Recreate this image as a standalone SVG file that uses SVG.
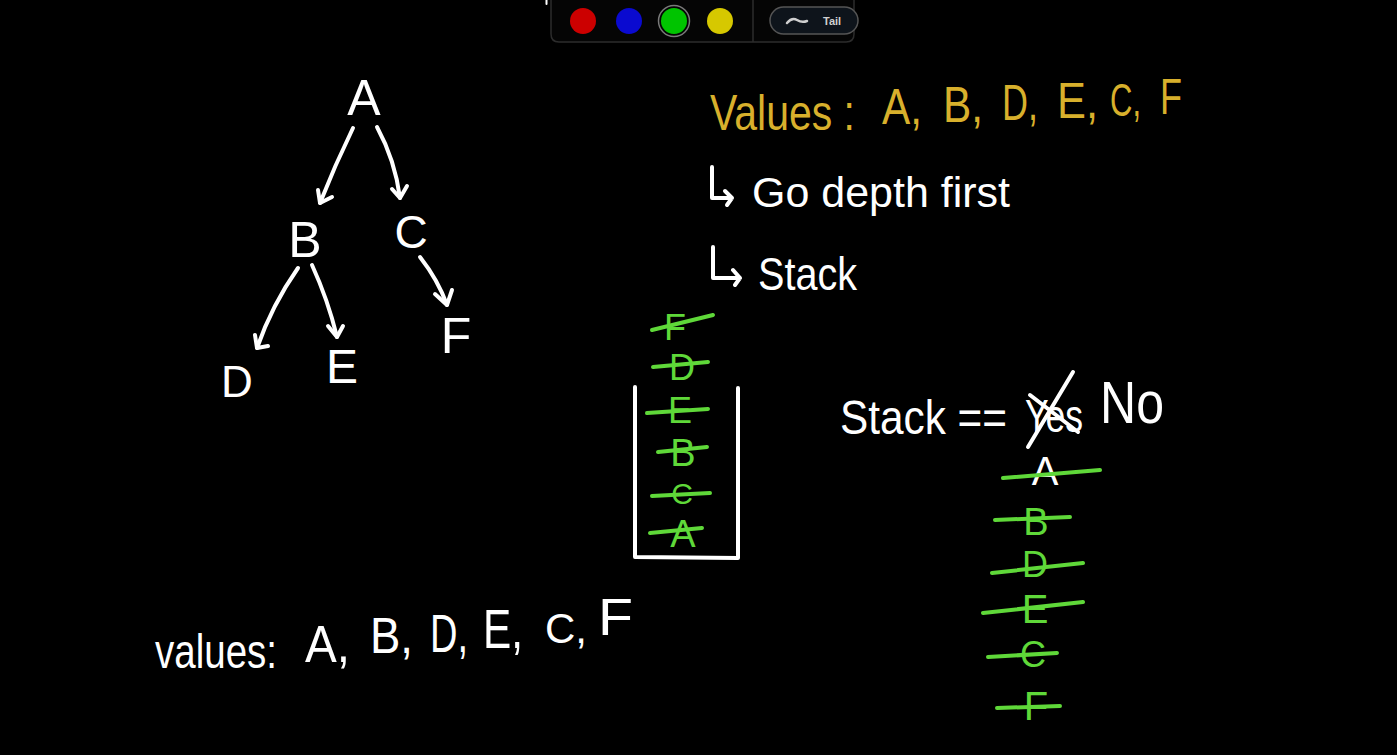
<svg xmlns="http://www.w3.org/2000/svg" width="1397" height="755" viewBox="0 0 1397 755">
<style>
.bg{fill:#000}
.w{fill:#fff;font-family:"Liberation Sans",Arial,sans-serif}
.y{fill:#d8b02c;font-family:"Liberation Sans",Arial,sans-serif}
.g{fill:#5fd839;font-family:"Liberation Sans",Arial,sans-serif}
.mid{text-anchor:middle}
.line{fill:none;stroke:#fff;stroke-width:4;stroke-linecap:round;stroke-linejoin:round}
.strike{fill:none;stroke:#5fd839;stroke-width:4;stroke-linecap:round}
</style>
<rect class="bg" x="0" y="0" width="1397" height="755"/>

<g id="toolbar">
  <path d="M551,-2 L551,34 Q551,42 559,42 L846,42 Q854,42 854,34 L854,-2 Z" fill="#050505" stroke="#2c2c2c" stroke-width="1.5"/>
  <line x1="753" y1="0" x2="753" y2="42" stroke="#2c2c2c" stroke-width="1.5"/>
  <circle cx="583" cy="21" r="13" fill="#cc0000"/>
  <circle cx="629" cy="21" r="13" fill="#0a0ad0"/>
  <circle cx="674" cy="21" r="15.5" fill="none" stroke="#7a7a7a" stroke-width="1.5"/>
  <circle cx="674" cy="21" r="13" fill="#00c400"/>
  <circle cx="720" cy="21" r="13" fill="#d6c800"/>
  <rect x="770" y="7" width="88" height="27" rx="13.5" fill="#0e141b" stroke="#555" stroke-width="1.5"/>
  <path d="M787,23 Q792,17 797,20 Q802,23 807,21" fill="none" stroke="#cfcfcf" stroke-width="2.5" stroke-linecap="round"/>
  <text x="823" y="25" font-family="'Liberation Sans',Arial,sans-serif" font-size="11" font-weight="bold" fill="#d0d0d0">Tail</text>
  <line x1="546.5" y1="0" x2="546.5" y2="4" stroke="#fff" stroke-width="2" stroke-linecap="round"/>
</g>

<g id="node-A"><text class="w mid" x="364" y="115" font-size="50">A</text></g>
<g id="node-B"><text class="w mid" x="305" y="257" font-size="50">B</text></g>
<g id="node-C"><text class="w mid" x="411" y="248" font-size="46">C</text></g>
<g id="node-D"><text class="w mid" x="237" y="397" font-size="44">D</text></g>
<g id="node-E"><text class="w mid" x="342" y="383" font-size="48">E</text></g>
<g id="node-F"><text class="w mid" x="456" y="353" font-size="50">F</text></g>

<g id="connectors">
  <path class="line" d="M353,128 Q335,165 320,203"/>
  <path class="line" d="M318,190 L320,203 L332,197"/>
  <path class="line" d="M377,127 Q395,160 400,198"/>
  <path class="line" d="M392,189 L400,198 L407,186"/>
  <path class="line" d="M298,268 Q272,305 257,348"/>
  <path class="line" d="M255,335 L257,348 L268,346"/>
  <path class="line" d="M312,265 Q328,300 337,337"/>
  <path class="line" d="M328,326 L337,337 L343,326"/>
  <path class="line" d="M420,257 Q438,280 447,305"/>
  <path class="line" d="M435,294 L447,305 L452,290"/>
</g>

<g id="title-values">
  <text class="y" x="710" y="130" font-size="50" textLength="145" lengthAdjust="spacingAndGlyphs">Values :</text>
  <text class="y" x="882" y="124" font-size="50" textLength="40" lengthAdjust="spacingAndGlyphs">A,</text>
  <text class="y" x="943" y="122" font-size="50" textLength="40" lengthAdjust="spacingAndGlyphs">B,</text>
  <text class="y" x="1002" y="120" font-size="50" textLength="36" lengthAdjust="spacingAndGlyphs">D,</text>
  <text class="y" x="1057" y="118" font-size="50" textLength="41" lengthAdjust="spacingAndGlyphs">E,</text>
  <text class="y" x="1110" y="116" font-size="46" textLength="31" lengthAdjust="spacingAndGlyphs">C,</text>
  <text class="y" x="1160" y="114" font-size="50" textLength="22" lengthAdjust="spacingAndGlyphs">F</text>
</g>

<g id="note-depth">
  <path class="line" d="M712,167 L712,198 L732,198 M725,191 L732,198 L727,205"/>
  <text class="w" x="752" y="207" font-size="42" textLength="258" lengthAdjust="spacingAndGlyphs">Go depth first</text>
</g>

<g id="note-stack">
  <path class="line" d="M713,247 L713,278 L740,278 M733,270 L740,278 L735,285"/>
  <text class="w" x="758" y="290" font-size="46" textLength="99" lengthAdjust="spacingAndGlyphs">Stack</text>
</g>

<g id="stack-box">
  <path class="line" d="M635,387 L635,557 L738,558 L738,388" stroke-width="3"/>
  <text class="g mid" x="675" y="340" font-size="36">F</text>
  <line class="strike" x1="652" y1="330" x2="713" y2="315"/>
  <text class="g mid" x="682" y="380" font-size="36">D</text>
  <line class="strike" x1="653" y1="367" x2="708" y2="362"/>
  <text class="g mid" x="680" y="423" font-size="36">E</text>
  <line class="strike" x1="647" y1="413" x2="708" y2="409"/>
  <text class="g mid" x="683" y="466" font-size="38">B</text>
  <line class="strike" x1="658" y1="452" x2="707" y2="447"/>
  <text class="g mid" x="682" y="504" font-size="30">C</text>
  <line class="strike" x1="652" y1="496" x2="710" y2="493"/>
  <text class="g mid" x="683" y="547" font-size="38">A</text>
  <line class="strike" x1="650" y1="533" x2="702" y2="528"/>
</g>

<g id="stack-equals">
  <text class="w" x="840" y="434" font-size="48" textLength="167" lengthAdjust="spacingAndGlyphs">Stack ==</text>
  <text class="w" x="1025" y="432" font-size="46" textLength="58" lengthAdjust="spacingAndGlyphs">Yes</text>
  <path class="line" d="M1073,372 L1028,447 M1030,395 L1078,432"/>
  <text class="w" x="1100" y="423" font-size="60" textLength="64" lengthAdjust="spacingAndGlyphs">No</text>
</g>

<g id="visited-list">
  <text class="w mid" x="1045" y="485" font-size="40">A</text>
  <line class="strike" x1="1003" y1="478" x2="1100" y2="470"/>
  <text class="g mid" x="1036" y="535" font-size="38">B</text>
  <line class="strike" x1="995" y1="520" x2="1070" y2="517"/>
  <text class="g mid" x="1035" y="577" font-size="36">D</text>
  <line class="strike" x1="992" y1="573" x2="1083" y2="563"/>
  <text class="g mid" x="1035" y="623" font-size="40">E</text>
  <line class="strike" x1="983" y1="613" x2="1083" y2="602"/>
  <text class="g mid" x="1033" y="667" font-size="36">C</text>
  <line class="strike" x1="988" y1="657" x2="1057" y2="653"/>
  <text class="g mid" x="1036" y="720" font-size="40">F</text>
  <line class="strike" x1="997" y1="708" x2="1060" y2="706"/>
</g>

<g id="bottom-values">
  <text class="w" x="155" y="668" font-size="48" textLength="122" lengthAdjust="spacingAndGlyphs">values:</text>
  <text class="w" x="305" y="662" font-size="52" textLength="45" lengthAdjust="spacingAndGlyphs">A,</text>
  <text class="w" x="370" y="653" font-size="50" textLength="43" lengthAdjust="spacingAndGlyphs">B,</text>
  <text class="w" x="430" y="652" font-size="54" textLength="38" lengthAdjust="spacingAndGlyphs">D,</text>
  <text class="w" x="483" y="648" font-size="56" textLength="40" lengthAdjust="spacingAndGlyphs">E,</text>
  <text class="w" x="545" y="643" font-size="42" textLength="42" lengthAdjust="spacingAndGlyphs">C,</text>
  <text class="w" x="598" y="635" font-size="52" textLength="35" lengthAdjust="spacingAndGlyphs">F</text>
</g>
</svg>
